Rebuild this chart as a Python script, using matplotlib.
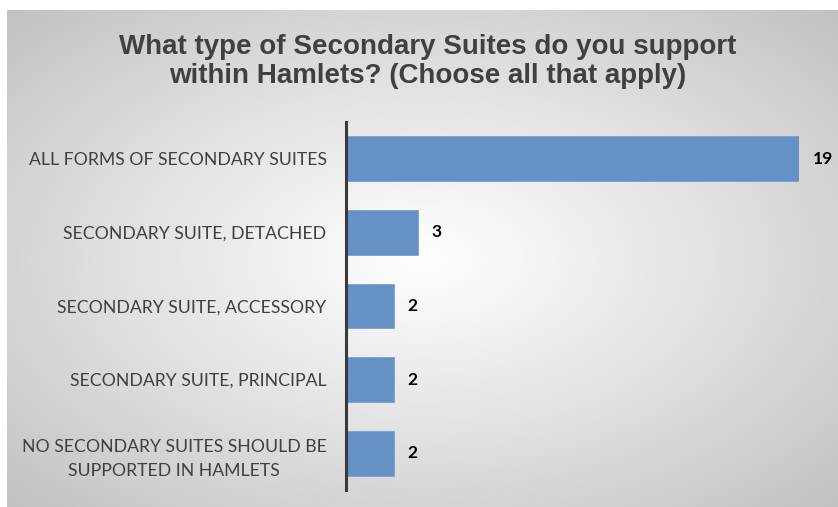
import numpy as np
import matplotlib
matplotlib.use('Agg')
import matplotlib.pyplot as plt
from matplotlib.colors import LinearSegmentedColormap

categories = ['ALL FORMS OF SECONDARY SUITES',
              'SECONDARY SUITE, DETACHED',
              'SECONDARY SUITE, ACCESSORY',
              'SECONDARY SUITE, PRINCIPAL',
              'NO SECONDARY SUITES SHOULD BE\nSUPPORTED IN HAMLETS']
values = [19, 3, 2, 2, 2]
title = 'What type of Secondary Suites do you support\nwithin Hamlets? (Choose all that apply)'

W, H = 838, 507
fig = plt.figure(figsize=(W / 100, H / 100), dpi=100)
fig.patch.set_facecolor('white')

# radial grey background panel
bg = fig.add_axes([7 / W, 0, (W - 7) / W, (H - 10) / H], zorder=-1)
gx, gy = np.meshgrid(np.linspace(0, 1, 400), np.linspace(0, 1, 250))
r = np.sqrt(((gx - 0.5) / 0.75) ** 2 + ((gy - 0.5) / 0.75) ** 2)
r = np.clip(r / r.max(), 0, 1)
cmap = LinearSegmentedColormap.from_list('bg', ['#ffffff', '#e2e2e2', '#c2c2c2'])
bg.imshow(r, cmap=cmap, aspect='auto', extent=[0, 1, 0, 1], origin='lower', vmin=0, vmax=1)
bg.axis('off')

# main axes
left, right, top, bottom = 346, 799, 122, 490
ax = fig.add_axes([left / W, (H - bottom) / H, (right - left) / W, (bottom - top) / H])
ax.patch.set_alpha(0)
y = np.arange(len(values))
ax.barh(y, values, height=0.61, color='#6591c7', edgecolor='#7aa0d0', linewidth=0.6)
ax.set_xlim(0, 19)
ax.set_ylim(len(values) - 0.5, -0.5)
ax.set_xticks([])
ax.set_yticks(y)
ax.set_yticklabels(categories, fontsize=12.7, color='#404040', family='Lato', linespacing=1.6)
for lab in ax.get_yticklabels():
    lab.set_multialignment('center')
ax.tick_params(axis='y', length=0, pad=14)
for s in ['top', 'right', 'bottom']:
    ax.spines[s].set_visible(False)
ax.spines['left'].set_color('#3a3a3a')
ax.spines['left'].set_linewidth(2.2)

for yi, v in zip(y, values):
    ax.annotate(str(v), (v, yi), xytext=(10, 0), textcoords='offset points',
                va='center', ha='left', fontsize=12.5, fontweight='bold',
                family='Lato', color='black', annotation_clip=False)

fig.text(428 / W, 1 - 34 / H, title, ha='center', va='top', fontsize=20,
         fontweight='bold', family='Liberation Sans', color='#404040', linespacing=1.13)

fig.savefig('out.png', dpi=100)
